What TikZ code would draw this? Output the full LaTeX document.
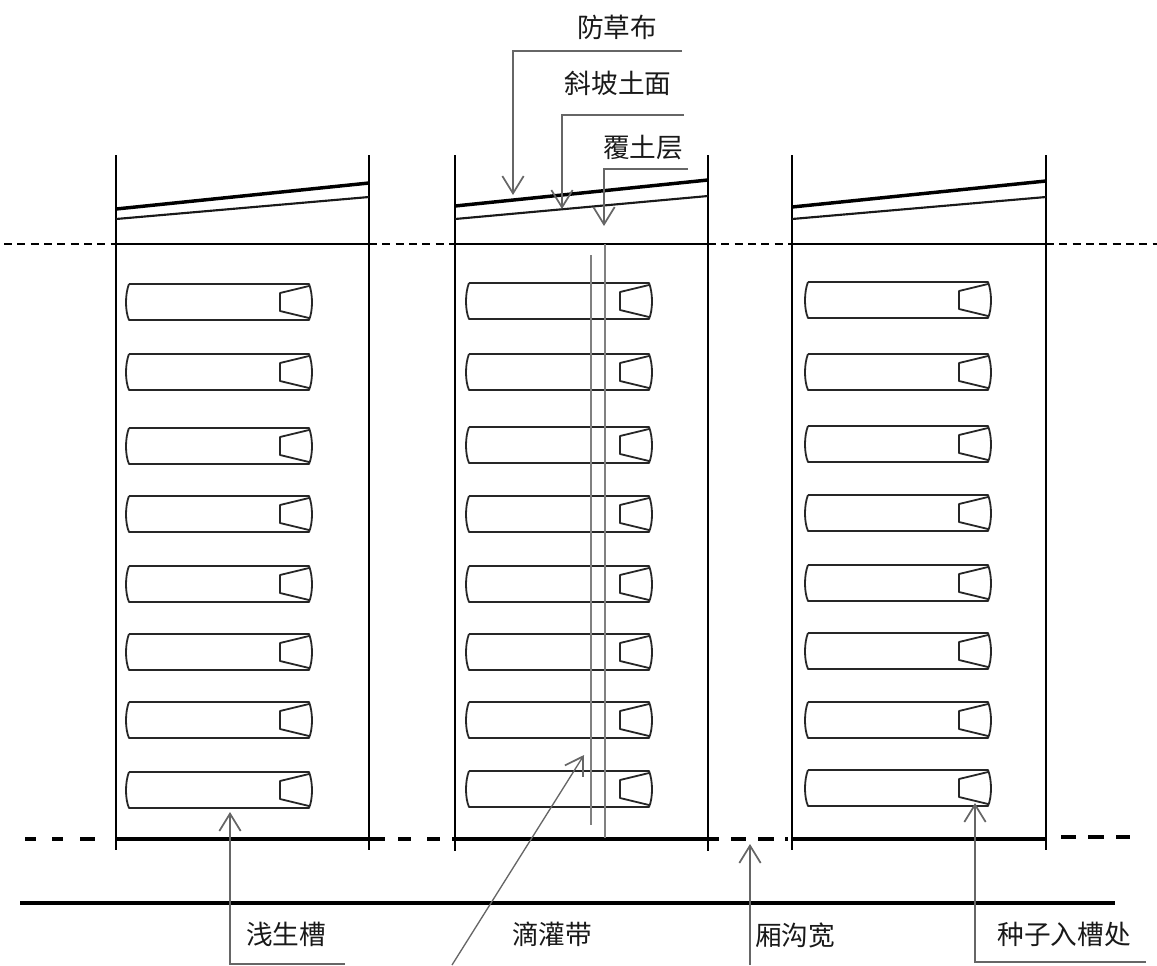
\documentclass[tikz,border=0pt]{standalone}
\usepackage{fontspec}
\setmainfont{Noto Sans CJK SC}
\usetikzlibrary{arrows.meta}
\definecolor{lead}{HTML}{666666}
\tikzset{
  x=0.75pt,y=-0.75pt,
  wall/.style={line width=1.15pt,black},
  heavy/.style={line width=2.6pt,black},
  thinslope/.style={line width=1.6pt,black!90},
  floor/.style={line width=2.6pt,black},
  fine/.style={line width=1pt,dash pattern=on 6pt off 4pt,black},
  slotline/.style={line width=1.35pt,black!85,line join=round},
  leader/.style={line width=1.3pt,lead,-{Straight Barb[length=13pt,width=16pt,line width=1.3pt]}},
  drip/.style={line width=.8pt,black!50},
  lab/.style={inner sep=0pt,font=\fontsize{20pt}{23pt}\selectfont,text=black!90},
}
\newcommand{\slotshape}[2]{%
  \draw[slotline] (#1+3,#2) -- (#1+183,#2) .. controls (#1+187,#2+10) and (#1+187,#2+27) .. (#1+183,#2+36) -- (#1+3,#2+36) .. controls (#1-1,#2+27) and (#1-1,#2+10) .. (#1+3,#2);
  \draw[slotline] (#1+183,#2+2) -- (#1+154,#2+9) -- (#1+154,#2+27) -- (#1+183,#2+34);
}
\begin{document}
\begin{tikzpicture}
\useasboundingbox (0,0) rectangle (1157,965);
% ridge outlines
\foreach \xa/\xb/\ya/\yb/\yc/\yd/\ybot in {116/369/209/183/219/197/850,455/708/206/180/219/196/851,792/1046/207/181/219/197/850}{
  \draw[wall] (\xa,155) -- (\xa,\ybot);
  \draw[wall] (\xb,155) -- (\xb,\ybot);
  \draw[heavy] (\xa,\ya) -- (\xb,\yb);
  \draw[thinslope] (\xa,\yc) -- (\xb,\yd);
  \draw[wall] (\xa,244) -- (\xb,244);
}
\draw[floor] (116,839) -- (385,839);
\draw[floor] (452,839) -- (719,839);
\draw[floor] (792,839) -- (1046,839);
% dashes
\draw[fine] (4,244) -- (116,244);
\draw[fine] (369,244) -- (455,244);
\draw[fine] (708,244) -- (792,244);
\draw[fine] (1046,244) -- (1157,244);
\foreach \a/\b/\y in {25/36/839,52/63/839,80/95/839,398/411/839,427/440/839,731/746/839,758/774/839,785/788/839,1061/1076/837,1088/1104/837,1116/1130/837}{
  \draw[floor] (\a,\y) -- (\b,\y);
}
\draw[floor] (20,903) -- (1115,903);
% slots
\foreach \y in {284,354,428,496,566,634,702,772}{\slotshape{126}{\y}}
\foreach \y in {283,354,427,496,566,634,702,771}{\slotshape{466}{\y}}
\foreach \y in {282,354,426,495,565,633,702,770}{\slotshape{805}{\y}}
% drip tape
\coordinate (dripA) at (591,255); \coordinate (dripB) at (591,825);
\coordinate (dripC) at (605,244); \coordinate (dripD) at (605,838);
\draw[drip] (dripA) -- (dripB);
\draw[drip] (dripC) -- (dripD);
% labels
\node[lab] (fcb) at (617,27) {防草布};
\node[lab] (xp) at (618,83) {斜坡土面};
\node[lab] (ftc) at (643,148) {覆土层};
\node[lab] (qsc) at (286,934) {浅生槽};
\node[lab] (dgd) at (552,934) {滴灌带};
\node[lab] (xgk) at (795,935) {厢沟宽};
\node[lab] (zz) at (1064,934) {种子入槽处};
% leaders
\coordinate (a1) at (682,51); \coordinate (a2) at (513,51); \coordinate (a3) at (513,195);
\coordinate (b1) at (684,115); \coordinate (b2) at (562,115); \coordinate (b3) at (562,209);
\coordinate (c1) at (688,169); \coordinate (c2) at (604,169); \coordinate (c3) at (604,226);
\coordinate (d1) at (345,964); \coordinate (d2) at (230,964); \coordinate (d3) at (230,812);
\coordinate (e1) at (452,965); \coordinate (e2) at (584,755);
\coordinate (f1) at (750,965); \coordinate (f2) at (750,844);
\coordinate (g1) at (1146,962); \coordinate (g2) at (975,962); \coordinate (g3) at (975,803);
\draw[leader] (a1) -- (a2) -- (a3);
\draw[leader] (b1) -- (b2) -- (b3);
\draw[leader] (c1) -- (c2) -- (c3);
\draw[leader] (d1) -- (d2) -- (d3);
\draw[leader,line width=1pt] (e1) -- (e2);
\draw[leader] (f1) -- (f2);
\draw[leader] (g1) -- (g2) -- (g3);
\end{tikzpicture}
\end{document}
